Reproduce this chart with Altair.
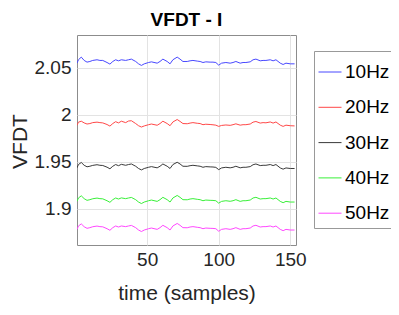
import altair as alt
import pandas as pd

samples = [1, 2, 4, 6, 8, 10, 12, 15, 17, 19, 22, 24, 26, 28, 30, 32, 35, 37, 39, 42,
           44, 46, 48, 51, 53, 57, 59, 61, 64, 66, 68, 71, 73, 75, 78, 80, 82, 85, 87, 89,
           91, 94, 96, 98, 100, 102, 105, 108, 110, 112, 115, 117, 119, 122, 124, 126, 129, 131, 133, 136,
           138, 140, 143, 145, 147, 150, 153]

hz10 = [2.0546, 2.0582, 2.0610, 2.0575, 2.0557, 2.0564, 2.0575, 2.0582, 2.0575, 2.0575,
        2.0553, 2.0536, 2.0564, 2.0582, 2.0571, 2.0582, 2.0575, 2.0582, 2.0589, 2.0564,
        2.0539, 2.0522, 2.0539, 2.0553, 2.0560, 2.0546, 2.0564, 2.0589, 2.0564, 2.0539,
        2.0582, 2.0610, 2.0589, 2.0564, 2.0564, 2.0571, 2.0575, 2.0568, 2.0564, 2.0553,
        2.0560, 2.0557, 2.0557, 2.0553, 2.0525, 2.0546, 2.0553, 2.0546, 2.0553, 2.0564,
        2.0546, 2.0553, 2.0553, 2.0560, 2.0582, 2.0589, 2.0571, 2.0575, 2.0575, 2.0582,
        2.0571, 2.0582, 2.0546, 2.0532, 2.0546, 2.0539, 2.0539]

hz20 = [1.9887, 1.9920, 1.9930, 1.9912, 1.9900, 1.9905, 1.9915, 1.9920, 1.9915, 1.9912,
        1.9895, 1.9878, 1.9905, 1.9925, 1.9912, 1.9930, 1.9915, 1.9932, 1.9935, 1.9905,
        1.9882, 1.9868, 1.9880, 1.9893, 1.9900, 1.9887, 1.9905, 1.9930, 1.9905, 1.9882,
        1.9922, 1.9948, 1.9928, 1.9905, 1.9903, 1.9910, 1.9915, 1.9908, 1.9905, 1.9893,
        1.9898, 1.9895, 1.9892, 1.9888, 1.9875, 1.9885, 1.9890, 1.9886, 1.9893, 1.9902,
        1.9888, 1.9893, 1.9893, 1.9900, 1.9920, 1.9927, 1.9910, 1.9915, 1.9913, 1.9922,
        1.9910, 1.9922, 1.9888, 1.9875, 1.9888, 1.9882, 1.9880]

hz30 = [1.9435, 1.9470, 1.9492, 1.9462, 1.9446, 1.9452, 1.9461, 1.9468, 1.9462, 1.9460,
        1.9442, 1.9425, 1.9452, 1.9470, 1.9458, 1.9472, 1.9462, 1.9470, 1.9476, 1.9452,
        1.9428, 1.9413, 1.9428, 1.9441, 1.9448, 1.9435, 1.9452, 1.9476, 1.9452, 1.9428,
        1.9470, 1.9494, 1.9476, 1.9452, 1.9451, 1.9458, 1.9462, 1.9456, 1.9452, 1.9441,
        1.9448, 1.9445, 1.9444, 1.9440, 1.9416, 1.9434, 1.9441, 1.9435, 1.9441, 1.9452,
        1.9435, 1.9441, 1.9441, 1.9448, 1.9468, 1.9476, 1.9459, 1.9462, 1.9462, 1.9470,
        1.9459, 1.9470, 1.9434, 1.9421, 1.9434, 1.9428, 1.9428]

hz40 = [1.9080, 1.9115, 1.9138, 1.9108, 1.9090, 1.9097, 1.9107, 1.9114, 1.9108, 1.9106,
        1.9086, 1.9069, 1.9097, 1.9115, 1.9104, 1.9116, 1.9108, 1.9115, 1.9121, 1.9097,
        1.9072, 1.9056, 1.9072, 1.9086, 1.9093, 1.9079, 1.9097, 1.9122, 1.9097, 1.9072,
        1.9115, 1.9142, 1.9122, 1.9097, 1.9096, 1.9104, 1.9108, 1.9101, 1.9097, 1.9086,
        1.9093, 1.9090, 1.9089, 1.9086, 1.9060, 1.9079, 1.9086, 1.9080, 1.9086, 1.9097,
        1.9079, 1.9086, 1.9086, 1.9093, 1.9115, 1.9122, 1.9104, 1.9108, 1.9108, 1.9115,
        1.9104, 1.9115, 1.9079, 1.9065, 1.9079, 1.9072, 1.9072]

hz50 = [1.8782, 1.8818, 1.8840, 1.8810, 1.8793, 1.8800, 1.8810, 1.8817, 1.8811, 1.8809,
        1.8789, 1.8772, 1.8800, 1.8818, 1.8807, 1.8818, 1.8811, 1.8818, 1.8824, 1.8800,
        1.8775, 1.8759, 1.8775, 1.8789, 1.8796, 1.8782, 1.8800, 1.8825, 1.8800, 1.8775,
        1.8818, 1.8845, 1.8825, 1.8800, 1.8799, 1.8807, 1.8811, 1.8804, 1.8800, 1.8789,
        1.8796, 1.8793, 1.8792, 1.8789, 1.8762, 1.8782, 1.8789, 1.8782, 1.8789, 1.8800,
        1.8782, 1.8789, 1.8789, 1.8796, 1.8818, 1.8825, 1.8807, 1.8811, 1.8811, 1.8818,
        1.8807, 1.8818, 1.8782, 1.8768, 1.8782, 1.8775, 1.8775]

series_names = ["10Hz", "20Hz", "30Hz", "40Hz", "50Hz"]
series_values = [hz10, hz20, hz30, hz40, hz50]
series_colors = ["#4848ff", "#ff4848", "#3a3a3a", "#38f038", "#ff48ff"]

x_ticks = [50, 100, 150]
y_ticks = [1.9, 1.95, 2.0, 2.05]

rows = []
for name, vals in zip(series_names, series_values):
    for s, v in zip(samples, vals):
        rows.append({"series": name, "t": s, "v": v})
df = pd.DataFrame(rows)

FONT = "Liberation Sans"
TXT = "#262626"

chart = alt.Chart(df).mark_line(strokeWidth=1, clip=True).encode(
    x=alt.X("t:Q",
            scale=alt.Scale(domain=[1, 154], nice=False, zero=False),
            axis=alt.Axis(values=x_ticks, title="time (samples)", grid=True,
                          ticks=False, tickSize=0, labelPadding=5, domain=False,
                          titleY=48, titleBaseline="middle")),
    y=alt.Y("v:Q",
            scale=alt.Scale(domain=[1.8616, 2.0845], nice=False, zero=False),
            axis=alt.Axis(values=y_ticks, format="~g", title="VFDT", grid=True,
                          ticks=False, tickSize=0, labelPadding=6, domain=False,
                          titleX=-57, titleY=106, titleBaseline="middle",
                          titleAngle=270)),
    color=alt.Color("series:N",
                    scale=alt.Scale(domain=series_names, range=series_colors),
                    legend=alt.Legend(title=" ", titleFontSize=5, titlePadding=0,
                                      orient="none", legendX=237, legendY=16,
                                      symbolType="stroke", symbolSize=529,
                                      symbolStrokeWidth=1, labelFontSize=19,
                                      labelFont=FONT, labelColor="#000000",
                                      labelOffset=3, rowPadding=13.3, padding=4,
                                      strokeColor="#999999", fillColor="#ffffff")),
).properties(
    width=219, height=210,
    title=alt.TitleParams("VFDT - I", fontSize=19, fontWeight="bold", font=FONT,
                          color="#000000", offset=5),
    autosize=alt.AutoSizeParams(type="none"),
    padding={"left": 69, "top": 27, "right": 95, "bottom": 62},
).configure_view(
    stroke="#8c8c8c", strokeWidth=1
).configure_axis(
    labelFont=FONT, labelFontSize=19, labelColor=TXT,
    titleFont=FONT, titleFontSize=21, titleColor=TXT, titleFontWeight="normal",
    gridColor="#e3e3e3", gridWidth=1
)

chart.save("out.html", embed_options={"renderer": "svg", "actions": False})
